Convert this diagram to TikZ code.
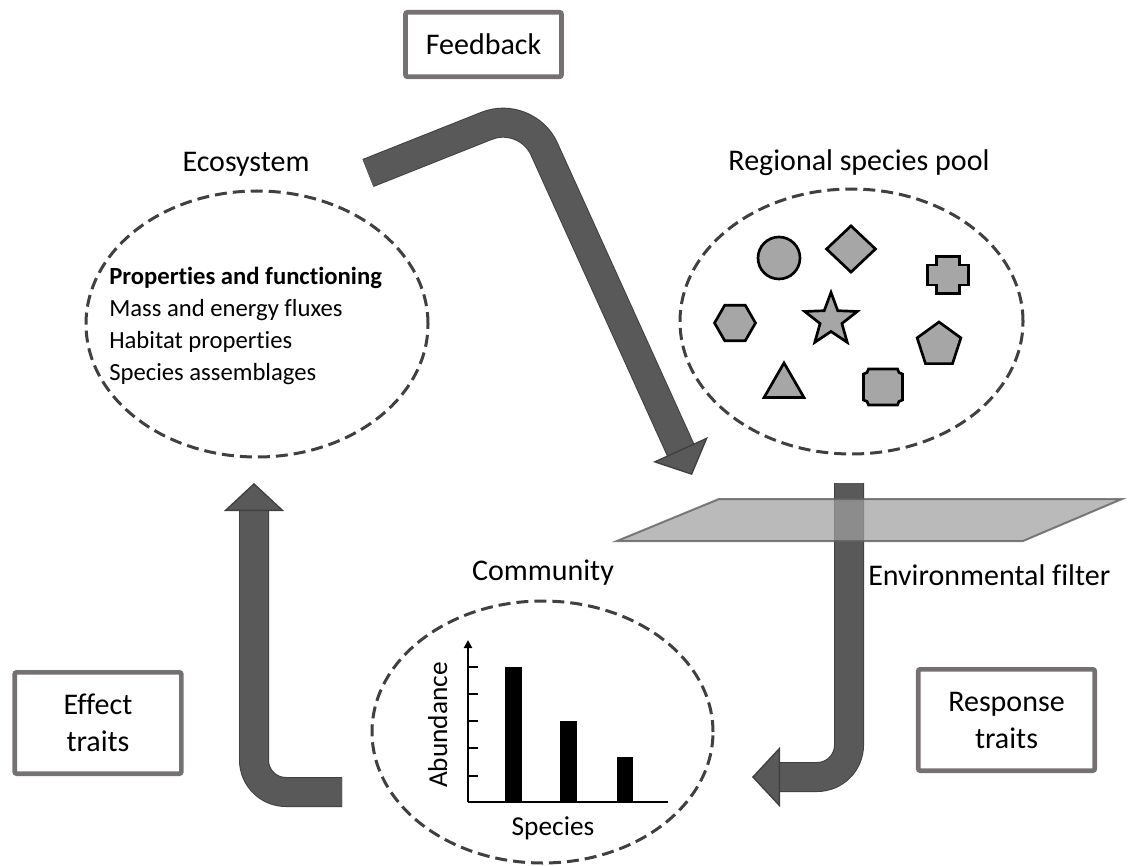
\documentclass[tikz,border=0pt]{standalone}
\usepackage{fontspec}
\setmainfont{Carlito}[Ligatures=NoCommon]
\usetikzlibrary{arrows.meta,shapes.geometric}

\definecolor{bandfill}{RGB}{89,89,89}
\definecolor{bandedge}{RGB}{64,64,64}
\definecolor{ringgray}{RGB}{64,64,64}
\definecolor{tagedge}{RGB}{118,113,113}
\definecolor{tokengray}{RGB}{166,166,166}
\definecolor{planegray}{RGB}{160,160,160}
\definecolor{planeedge}{RGB}{96,96,96}

\tikzset{
	ring/.style={ellipse, draw=ringgray, line width=2.25pt, dash pattern=on 9pt off 4.5pt, inner sep=0pt},
	title/.style={font=\fontsize{22.5}{27.75}\selectfont, inner sep=0pt},
	tag/.style={draw=tagedge, line width=3.5pt, rounded corners=1.5pt, align=center, inner sep=0pt, font=\fontsize{22.5}{27.75}\selectfont},
	band/.style={draw=bandfill, line width=21pt,
		-{Triangle[length=21pt, width=45pt, line width=1pt, color=bandedge, fill=bandfill]},
		preaction={draw=bandedge, line width=22.5pt, -, shorten >=20pt}},
	token/.style={fill=tokengray, draw=black, line width=2pt, line join=miter, inner sep=0pt},
	plane/.style={fill=planegray, fill opacity=0.72, draw=planeedge, draw opacity=0.8, line width=1.5pt, line join=miter},
	axis/.style={line width=2pt},
	chartfont/.style={font=\fontsize{20.5}{24}\selectfont, inner sep=0pt},
}

\begin{document}
\begin{tikzpicture}[x=0.75pt,y=0.75pt,yscale=-1,xscale=1]
	\useasboundingbox (0,0) rectangle (1128,866);

	% dashed rings
	\node[ring, minimum width=256.5pt, minimum height=199.5pt] (eco) at (257,324) {};
	\node[ring, minimum width=257.25pt, minimum height=198.75pt] (pool) at (851.5,321.5) {};
	\node[ring, minimum width=255.75pt, minimum height=196.5pt] (comm) at (542.5,732) {};

	% titles
	\node[title, anchor=base] (ecolabel) at (246,172) {Ecosystem};
	\node[title, anchor=base] (poollabel) at (859,171) {Regional species pool};
	\node[title, anchor=base] (commlabel) at (543,580) {Community};
	\node[title, anchor=base west] (filterlabel) at (868,585) {Environmental filter};

	% boxed labels
	\node[tag, minimum width=117pt, minimum height=48.4pt] (feedback) at (483.5,44.5) {Feedback};
	\node[tag, minimum width=125pt, minimum height=76pt] (effect) at (98,723) {Effect\\traits};
	\node[tag, minimum width=132.4pt, minimum height=76pt] (response) at (1006.5,720) {Response\\traits};

	% base anchor sits on the last line here
	\node[anchor=base west, align=left, inner sep=0pt, font=\fontsize{18.5}{24}\selectfont] (ecotext) at (109,380)
		{\textbf{Properties and functioning}\\Mass and energy fluxes\\Habitat properties\\Species assemblages};

	% species in the pool
	\node[token, circle, minimum size=31.5pt] (circ) at (779,258) {};
	\node[token, diamond, minimum width=37.5pt, minimum height=35.5pt] (diam) at (851,249) {};
	\node[token, regular polygon, regular polygon sides=6, minimum size=30.75pt] (hexa) at (735,323) {};
	\node[token, star, star points=5, star point ratio=2.4, minimum size=41.4pt] (starr) at (831,320) {};
	\node[token, regular polygon, regular polygon sides=5, minimum size=34.5pt] (penta) at (939,345) {};
	\node[token, regular polygon, regular polygon sides=3, minimum size=34.6pt] (trian) at (784,386) {};
	\begin{scope}[shift={(948,275)}]
		\draw[token] (-11.5,-18.5) -- (11.5,-18.5) -- (11.5,-10) -- (20.5,-10) -- (20.5,10) -- (11.5,10)
			-- (11.5,18.5) -- (-11.5,18.5) -- (-11.5,10) -- (-20.5,10) -- (-20.5,-10) -- (-11.5,-10) -- cycle;
	\end{scope}
	\begin{scope}[shift={(883,387)}]
		\draw[token] (-14.5,-18) -- (14.5,-18) arc[start angle=180, end angle=90, radius=5]
			-- (19.5,13) arc[start angle=270, end angle=180, radius=5]
			-- (-14.5,18) arc[start angle=360, end angle=270, radius=5]
			-- (-19.5,-13) arc[start angle=90, end angle=0, radius=5] -- cycle;
	\end{scope}

	% block arrows
	\coordinate (fbtail) at (368,173);
	\coordinate (fbbend) at (526.5,110);
	\coordinate (fbtip) at (692,475);
	\draw[band, rounded corners=32pt] (fbtail) -- (fbbend) -- (fbtip);

	\coordinate (eftail) at (342,792);
	\coordinate (efbend) at (254,792);
	\coordinate (eftip) at (254,483);
	\draw[band, rounded corners=24pt] (eftail) -- (efbend) -- (eftip);

	\coordinate (rstail) at (849,483);
	\coordinate (rsbend) at (849,777);
	\coordinate (rstip) at (752,777);
	\draw[band, rounded corners=24pt] (rstail) -- (rsbend) -- (rstip);

	% environmental filter
	\filldraw[plane] (617,541) -- (719,499) -- (1122,499) -- (1023,541) -- cycle;

	% abundance chart
	\coordinate (origin) at (468,802);
	\draw[axis] (668,802) -- (origin);
	\draw[axis, -{Triangle[length=6pt, width=6pt]}] (origin) -- (468,640);
	\foreach \ty in {667,694,721,748,776}
		\draw[axis] (468,\ty) -- (478,\ty);
	\fill (505,667) rectangle (522,802);
	\fill (560,721) rectangle (577,802);
	\fill (617,757) rectangle (633,802);
	\node[chartfont, rotate=90, anchor=base] (abund) at (447,725) {Abundance};
	\node[chartfont, anchor=base] (specieslabel) at (553,835) {Species};
\end{tikzpicture}
\end{document}
